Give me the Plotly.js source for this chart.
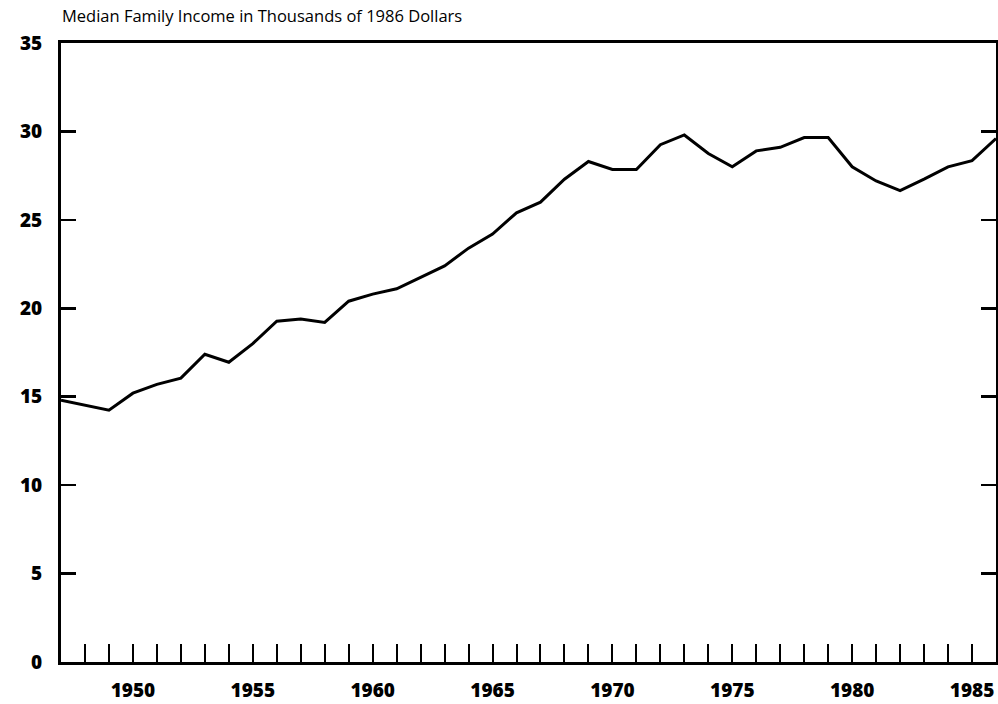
<!DOCTYPE html>
<html>
<head>
<meta charset="utf-8">
<script src="https://cdn.plot.ly/plotly-3.0.1.min.js"></script>
<style>html,body{margin:0;padding:0;background:#fff;}#chart{width:998px;height:704px;}</style>
</head>
<body>
<div id="chart"></div>
<script>
// Data
const years = [1947,1948,1949,1950,1951,1952,1953,1954,1955,1956,1957,1958,1959,1960,1961,1962,1963,1964,1965,1966,1967,1968,1969,1970,1971,1972,1973,1974,1975,1976,1977,1978,1979,1980,1981,1982,1983,1984,1985,1986];
const income = [14.8,14.5,14.24,15.2,15.7,16.05,17.4,16.95,18.0,19.27,19.4,19.2,20.4,20.8,21.1,21.75,22.4,23.4,24.2,25.4,26.0,27.3,28.3,27.85,27.85,29.25,29.8,28.75,28.0,28.9,29.1,29.65,29.65,28.0,27.2,26.65,27.3,28.0,28.35,29.6];
const xTickVals = [1950,1955,1960,1965,1970,1975,1980,1985];
const xTickText = ['1950','1955','1960','1965','1970','1975','1980','1985'];
const yTickVals = [0,5,10,15,20,25,30,35];
const yTickText = ['0','5','10','15','20','25','30','35'];
const titleText = 'Median Family Income in Thousands of 1986 Dollars';

const tickFont = {family: 'Open Sans, sans-serif', size: 19, color: '#000', weight: 800};

const trace = {
  x: years, y: income, type: 'scatter', mode: 'lines',
  line: {color: '#000', width: 3},
  hoverinfo: 'skip', showlegend: false
};

const layout = {
  width: 998, height: 704,
  margin: {l: 61, r: 2, t: 43, b: 42},
  paper_bgcolor: '#fff', plot_bgcolor: '#fff',
  title: {
    text: titleText, xref: 'container', yref: 'container',
    x: 62/998, xanchor: 'left', y: 1 - 16/704, yanchor: 'middle',
    font: {family: 'Open Sans, sans-serif', size: 16.5, color: '#000'}
  },
  xaxis: {
    range: [1947, 1986], showgrid: false, zeroline: false,
    showline: true, linecolor: '#000', linewidth: 3, mirror: true,
    tickmode: 'array', tickvals: xTickVals, ticktext: xTickText,
    ticks: 'inside', ticklen: 18, tickwidth: 2, tickcolor: '#000',
    minor: {tick0: 1947, dtick: 1, ticks: 'inside', ticklen: 18, tickwidth: 2, tickcolor: '#000', showgrid: false},
    tickfont: tickFont, ticklabelstandoff: 9
  },
  yaxis: {
    range: [0, 35], showgrid: false, zeroline: false,
    showline: true, linecolor: '#000', linewidth: 3, mirror: 'ticks',
    tickmode: 'array', tickvals: yTickVals, ticktext: yTickText,
    ticks: 'inside', ticklen: 15, tickwidth: 2.5, tickcolor: '#000',
    tickfont: tickFont, ticklabelstandoff: 12
  }
};

Plotly.newPlot('chart', [trace], layout, {staticPlot: true, displayModeBar: false});
</script>
</body>
</html>
